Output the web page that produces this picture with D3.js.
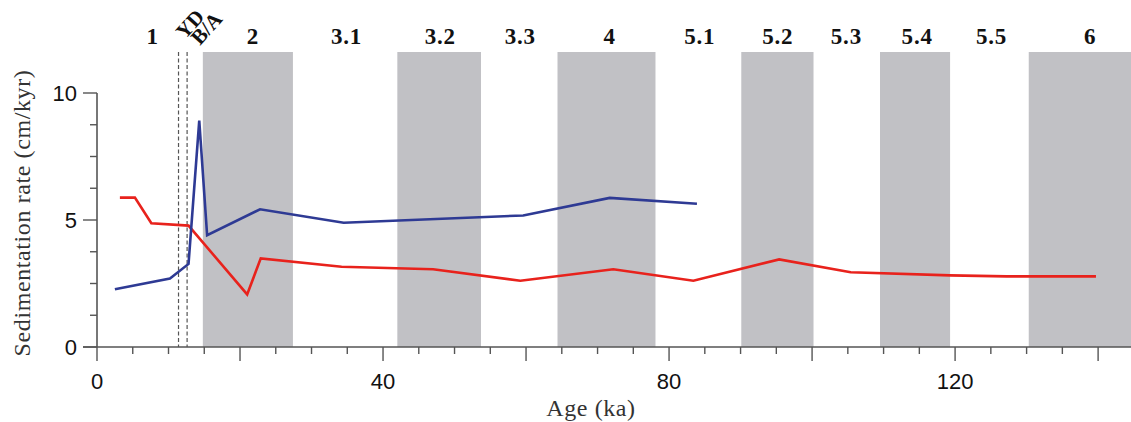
<!DOCTYPE html>
<html>
<head>
<meta charset="utf-8">
<script src="https://cdn.jsdelivr.net/npm/d3@7"></script>
<style>
  body { margin: 0; background: #fff; }
  .tick-label { font-family: "Liberation Sans", Arial, sans-serif; font-size: 22px; fill: #111; }
  .axis-title { font-family: "Liberation Serif", "Times New Roman", serif; font-size: 24px; fill: #333; letter-spacing: 0.6px; }
  .stage { font-family: "Liberation Serif", "Times New Roman", serif; font-size: 23px; font-weight: bold; fill: #111; letter-spacing: 0.8px; }
</style>
</head>
<body>
<script>
// red record: age (ka), sedimentation rate (cm/kyr)
var redAge  = [3.2, 5.3, 7.6, 12.8, 21.0, 22.9, 34.2, 47.0, 59.2, 72.2, 83.4, 95.4, 105.4, 119.3, 127.2, 139.7];
var redRate = [5.88, 5.88, 4.87, 4.78, 2.07, 3.49, 3.16, 3.06, 2.61, 3.06, 2.61, 3.45, 2.94, 2.82, 2.78, 2.78];

// blue record
var blueAge  = [2.5, 10.2, 12.8, 14.3, 15.4, 22.8, 34.5, 59.6, 71.7, 83.9];
var blueRate = [2.27, 2.70, 3.27, 8.91, 4.40, 5.42, 4.89, 5.18, 5.87, 5.64];

// shaded marine isotope stages (even stages / cold substages)
var bandStart = [14.8, 42.0, 64.4, 90.1, 109.5, 130.3];
var bandEnd   = [27.4, 53.7, 78.1, 100.2, 119.3, 150];

// dashed markers (YD and B/A boundaries)
var dashAge = [11.4, 12.6];

// stage labels along the top
var stageNames = ["1", "2", "3.1", "3.2", "3.3", "4", "5.1", "5.2", "5.3", "5.4", "5.5", "6"];
var stageAge   = [7.8, 21.8, 34.9, 48.0, 59.2, 71.7, 84.3, 95.2, 104.8, 114.7, 125.1, 138.9];

var xTickLabels = [0, 40, 80, 120];
var yTickLabels = [0, 5, 10];

var width = 1131, height = 422;
var x0 = 97, yBase = 347;

var x = d3.scaleLinear().domain([0, 144.6]).range([x0, width]);
var y = d3.scaleLinear().domain([0, 10]).range([yBase, 93]);

var svg = d3.select("body").append("svg")
    .attr("width", width)
    .attr("height", height);

// gray bands
svg.selectAll("rect.band")
    .data(bandStart)
    .enter().append("rect")
      .attr("class", "band")
      .attr("x", function (d) { return x(d); })
      .attr("y", 52)
      .attr("width", function (d, i) { return Math.min(x(bandEnd[i]), width) - x(d); })
      .attr("height", yBase - 52)
      .attr("fill", "#c1c1c5");

// dashed lines
svg.selectAll("line.dash")
    .data(dashAge)
    .enter().append("line")
      .attr("x1", function (d) { return x(d); })
      .attr("x2", function (d) { return x(d); })
      .attr("y1", 52)
      .attr("y2", yBase)
      .attr("stroke", "#555")
      .attr("stroke-width", 1.2)
      .attr("stroke-dasharray", "4,2.5");

// series
var line = d3.line()
    .x(function (d) { return x(d[0]); })
    .y(function (d) { return y(d[1]); });

svg.append("path")
    .datum(d3.zip(redAge, redRate))
    .attr("d", line)
    .attr("fill", "none")
    .attr("stroke", "#e8221c")
    .attr("stroke-width", 2.6)
    .attr("stroke-linejoin", "miter");

svg.append("path")
    .datum(d3.zip(blueAge, blueRate))
    .attr("d", line)
    .attr("fill", "none")
    .attr("stroke", "#2e3a94")
    .attr("stroke-width", 2.6)
    .attr("stroke-linejoin", "miter");

// x axis
var axisColor = "#555";
svg.append("line")
    .attr("x1", x0 - 14).attr("x2", width)
    .attr("y1", yBase).attr("y2", yBase)
    .attr("stroke", axisColor).attr("stroke-width", 1.6);

svg.selectAll("line.xtick")
    .data(d3.range(0, 145, 5))
    .enter().append("line")
      .attr("x1", function (d) { return x(d); })
      .attr("x2", function (d) { return x(d); })
      .attr("y1", yBase)
      .attr("y2", function (d) { return d % 20 === 0 ? yBase + 14 : yBase + 7; })
      .attr("stroke", axisColor).attr("stroke-width", 1.4);

svg.selectAll("text.xlab")
    .data(xTickLabels)
    .enter().append("text")
      .attr("class", "tick-label")
      .attr("x", function (d) { return x(d); })
      .attr("y", 389)
      .attr("text-anchor", "middle")
      .text(function (d) { return d; });

// y axis
svg.append("line")
    .attr("x1", x0).attr("x2", x0)
    .attr("y1", y(0)).attr("y2", y(10))
    .attr("stroke", axisColor).attr("stroke-width", 1.6);

svg.selectAll("line.ytick")
    .data(d3.range(0, 10.01, 1.25))
    .enter().append("line")
      .attr("x1", function (d) { return d % 5 === 0 ? x0 - 14 : x0 - 7; })
      .attr("x2", x0)
      .attr("y1", function (d) { return y(d); })
      .attr("y2", function (d) { return y(d); })
      .attr("stroke", axisColor).attr("stroke-width", 1.4);

svg.selectAll("text.ylab")
    .data(yTickLabels)
    .enter().append("text")
      .attr("class", "tick-label")
      .attr("x", 77)
      .attr("y", function (d) { return y(d) + 8; })
      .attr("text-anchor", "end")
      .text(function (d) { return d; });

// axis titles
svg.append("text")
    .attr("class", "axis-title")
    .attr("x", 591).attr("y", 416)
    .attr("text-anchor", "middle")
    .text("Age (ka)");

svg.append("text")
    .attr("class", "axis-title")
    .attr("transform", "translate(30,213) rotate(-90)")
    .attr("text-anchor", "middle")
    .text("Sedimentation rate (cm/kyr)");

// stage labels
svg.selectAll("text.stage")
    .data(stageNames)
    .enter().append("text")
      .attr("class", "stage")
      .attr("x", function (d, i) { return x(stageAge[i]); })
      .attr("y", 44)
      .attr("text-anchor", "middle")
      .text(function (d) { return d; });

svg.append("text")
    .attr("class", "stage")
    .style("letter-spacing", "0px")
    .style("font-size", "21px")
    .attr("transform", "translate(185,40) rotate(-48)")
    .text("YD");

svg.append("text")
    .attr("class", "stage")
    .style("letter-spacing", "0px")
    .style("font-size", "21px")
    .attr("transform", "translate(200,46) rotate(-48)")
    .text("B/A");
</script>
</body>
</html>
